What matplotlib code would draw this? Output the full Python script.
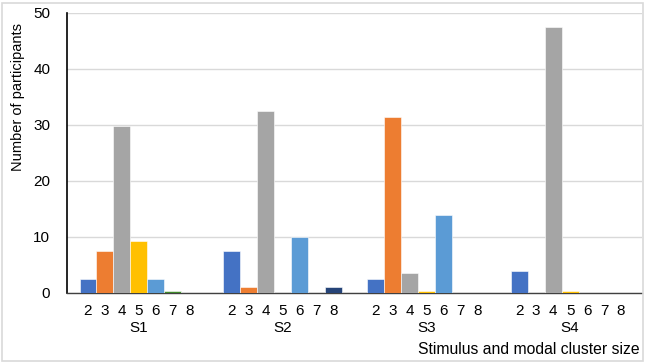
import matplotlib
matplotlib.use("Agg")
import matplotlib.pyplot as plt
import matplotlib.transforms as mtransforms
from matplotlib.patches import Rectangle
import numpy as np

plt.rcParams['font.family'] = ['Liberation Sans', 'DejaVu Sans']

stimuli = ["S1", "S2", "S3", "S4"]
cluster_sizes = ["2", "3", "4", "5", "6", "7", "8"]
# values[size][stimulus]
size2 = [2.5, 7.5, 2.5, 4.0]
size3 = [7.5, 1.0, 31.5, 0.0]
size4 = [29.8, 32.5, 3.5, 47.5]
size5 = [9.3, 0.0, 0.4, 0.4]
size6 = [2.5, 10.0, 14.0, 0.0]
size7 = [0.3, 0.0, 0.0, 0.0]
size8 = [0.0, 1.0, 0.0, 0.0]
series = [size2, size3, size4, size5, size6, size7, size8]
colors = ["#4472C4", "#ED7D31", "#A5A5A5", "#FFC000", "#5B9BD5", "#3F8A2A", "#264478"]

fig = plt.figure(figsize=(6.45, 3.62), dpi=100)
W, H = 645, 362
ax = fig.add_axes([67 / W, (H - 293) / H, (642 - 67) / W, (293 - 13) / H])

bw = 0.118
x = np.arange(len(stimuli))
tick_pos, tick_lab = [], []
for i, (vals, c) in enumerate(zip(series, colors)):
    off = (i - 3) * bw
    ax.bar(x + off, vals, width=bw, color=c, edgecolor="white", linewidth=0.4, zorder=3)
    for g in x:
        tick_pos.append(g + off)
        tick_lab.append(cluster_sizes[i])

ax.set_xlim(-0.5, 3.5)
ax.set_ylim(0, 50)
ax.set_yticks([0, 10, 20, 30, 40, 50])
ax.yaxis.grid(True, color="#d9d9d9", linewidth=1, zorder=0)
ax.set_axisbelow(True)
ax.tick_params(axis="y", length=0, pad=12, labelsize=11)
ax.set_xticks(tick_pos)
ax.set_xticklabels(tick_lab)
ax.tick_params(axis="x", length=0, pad=8, labelsize=11)

for s in ["top", "right"]:
    ax.spines[s].set_visible(False)
ax.spines["left"].set_color("black")
ax.spines["left"].set_linewidth(1.2)
ax.spines["bottom"].set_color("#404040")
ax.spines["bottom"].set_linewidth(1.0)

trans = mtransforms.blended_transform_factory(ax.transData, fig.transFigure)
for g, s in zip(x, stimuli):
    ax.text(g, 1 - 328 / H, s, transform=trans, ha="center", va="center", fontsize=11)

fig.text(18 / W, 1 - 97 / H, "Number of participants", rotation=90, ha="center", va="center", fontsize=10.5)
fig.text(640 / W, 1 - 349 / H, "Stimulus and modal cluster size", ha="right", va="center", fontsize=11.3)

fig.patches.append(Rectangle((1.5 / W, 1.5 / H), (W - 4) / W, (H - 4) / H, transform=fig.transFigure,
                             fill=False, edgecolor="#d9d9d9", linewidth=1.2))

fig.savefig("out.png", dpi=100)
